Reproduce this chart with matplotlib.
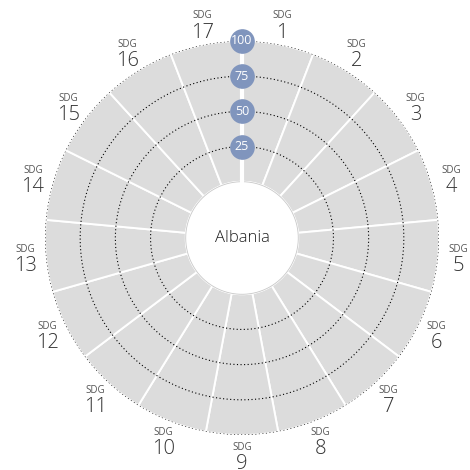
import numpy as np
import matplotlib
matplotlib.use("Agg")
import matplotlib.pyplot as plt

# ---- data ----
country = "Albania"
goals = [str(i) for i in range(1, 18)]
track_max = [100, 100, 100, 100, 100, 100, 100, 100, 100, 100, 100, 100, 100, 100, 100, 100, 100]
ring_levels = [25, 50, 75, 100]
ring_labels = ["25", "50", "75", "100"]

# ---- style ----
offset = 40          # inner hole size in value units
gray = "#dcdcdc"
badge = "#8095bd"
txt = "#333333"
font = ["Open Sans", "DejaVu Sans"]

fig = plt.figure(figsize=(4.7, 4.7), dpi=100)
cx, cy, R = 242, 238, 197
ax = fig.add_axes([(cx - R) / 470, (470 - cy - R) / 470, 2 * R / 470, 2 * R / 470],
                  projection="polar")
ax.set_theta_zero_location("N")
ax.set_theta_direction(-1)
ax.set_ylim(0, 100 + offset)
ax.axis("off")

n = len(goals)
width = 2 * np.pi / n
theta = np.arange(n) * width + width / 2

ax.bar(theta, track_max, width=width, bottom=offset, color=gray,
       edgecolor="white", linewidth=1.4, zorder=1)

# dotted rings
tt = np.linspace(0, 2 * np.pi, 720)
for lv in ring_levels:
    ax.plot(tt, np.full_like(tt, lv + offset), color="black",
            linestyle=(0, (1, 2.2)), linewidth=0.8, zorder=3)

# center hole
ax.fill(tt, np.full_like(tt, offset), color="white", zorder=4)
ax.plot(tt, np.full_like(tt, offset), color="#c8c8c8", linewidth=0.6, zorder=4)

# vertical top line
ax.plot([0, 0], [offset, 100 + offset], color="white", linewidth=3, zorder=5)

# badges
for lv, lab in zip(ring_levels, ring_labels):
    ax.scatter([0], [lv + offset], s=280, color=badge, zorder=6, clip_on=False)
    ax.text(0, lv + offset, lab, ha="center", va="center", color="white",
            fontsize=9, family=font, zorder=7)

# labels
lab_r = 154.5
for th, g in zip(theta, goals):
    ax.annotate(g, xy=(th, lab_r), xytext=(0, -6), textcoords="offset points",
                ha="center", va="center", fontsize=14.5,
                color=txt, family=font, fontweight="light", annotation_clip=False)
    ax.annotate("SDG", xy=(th, lab_r), xytext=(0, 6), textcoords="offset points",
                ha="center", va="center", fontsize=7, color="#555555",
                family=font, annotation_clip=False)

ax.text(0, 0, country, ha="center", va="center", fontsize=12, color="#222222",
        family=font, fontweight="light", zorder=8)

fig.savefig("out.png", dpi=100)
